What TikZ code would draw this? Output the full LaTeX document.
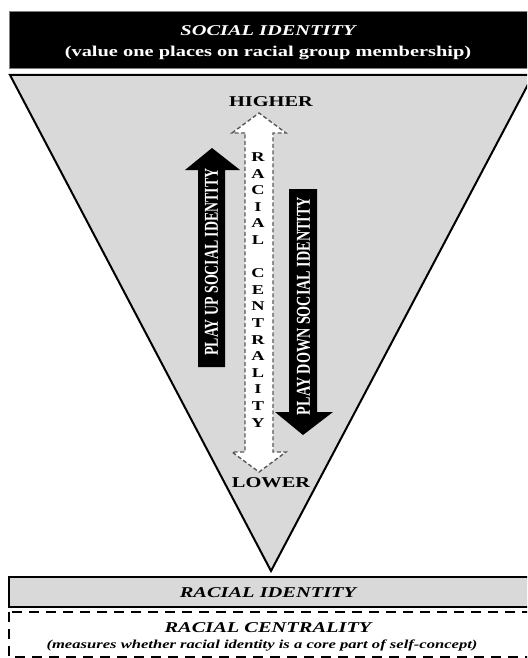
\documentclass[tikz,border=0pt]{standalone}
\usepackage{fontspec}
\setmainfont{Liberation Serif}
\usepackage{graphicx}
\newcommand{\sx}[1]{\scalebox{1.36}[1]{#1}}
\newcommand{\fs}[1]{\fontsize{#1}{#1}\selectfont}
\definecolor{trigray}{gray}{0.85}
\definecolor{dashgray}{gray}{0.35}
\tikzset{
  lbl/.style={inner sep=0pt, font=\fs{15}},
  blackarrow/.style={fill=black},
  whitearrow/.style={fill=white, draw=dashgray, line width=1.4pt, dash pattern=on 4pt off 2.5pt},
  letter/.style={inner sep=0pt, font=\fs{13.5}\bfseries},
  rottext/.style={inner sep=0pt, rotate=90, text=white},
}
\begin{document}
\begin{tikzpicture}[x=1pt,y=-1pt]
\useasboundingbox (0,0) rectangle (527,658);
\clip (0,0) rectangle (527,658);
% top black box
\fill[black, draw=gray, line width=0.8pt] (9,11) rectangle (540,68);
\node[lbl, text=white] (soc) at (268,31) {\sx{\bfseries\itshape SOCIAL IDENTITY}};
\node[lbl, text=white] (val) at (268,53) {\sx{\bfseries (value one places on racial group membership)}};
% triangle
\draw[fill=trigray, line width=2pt, line join=miter] (10,75) -- (533,75) -- (271,571) -- cycle;
% white dashed double arrow
\draw[whitearrow] (245,133) -- (232,133) -- (259,113) -- (286,133) -- (273,133)
  -- (273,452) -- (286,452) -- (259,472) -- (232,452) -- (245,452) -- cycle;
\node[lbl, font=\fs{15}\bfseries] (high) at (271,102) {\sx{HIGHER}};
\node[lbl, font=\fs{15}\bfseries] (low) at (271,483) {\sx{LOWER}};
\foreach \ch [count=\i from 0] in {R,A,C,I,A,L,{},C,E,N,T,R,A,L,I,T,Y}{
  \node[letter] (c\i) at (258,{157+16.6*\i}) {\sx{\ch}};
}
% black up arrow
\fill[blackarrow] (198,367) -- (198,170) -- (185,170) -- (212,148) -- (240,170)
  -- (225,170) -- (225,367) -- cycle;
\node[rottext] (up) at (211.5,262) {\resizebox{187pt}{13pt}{\bfseries PLAY UP SOCIAL IDENTITY}};
% black down arrow
\fill[blackarrow] (289,189) -- (317,189) -- (317,412) -- (333,412) -- (303,435)
  -- (275,412) -- (289,412) -- cycle;
\node[rottext] (down) at (303.5,306) {\resizebox{218pt}{13pt}{\bfseries PLAY DOWN SOCIAL IDENTITY}};
% racial identity box
\draw[fill=trigray, line width=2.2pt] (9,577) rectangle (540,607);
\node[lbl] (ri) at (268,593) {\sx{\bfseries\itshape RACIAL IDENTITY}};
% racial centrality box
\draw[line width=2.4pt, dash pattern=on 10pt off 7pt] (9,612) rectangle (540,657);
\node[lbl] (rc) at (268,628) {\sx{\bfseries\itshape RACIAL CENTRALITY}};
\node[lbl, font=\fs{12.2}] (meas) at (262,646) {\sx{\bfseries\itshape (measures whether racial identity is a core part of self-concept)}};
\end{tikzpicture}
\end{document}
